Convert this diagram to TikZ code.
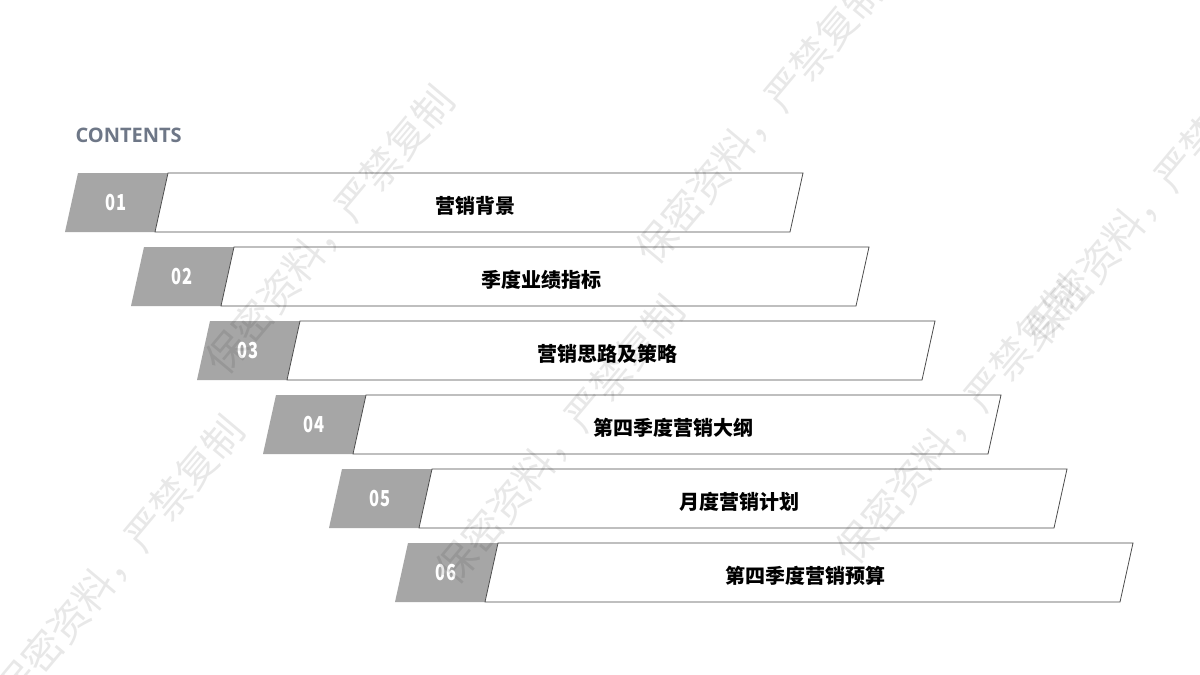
\documentclass[tikz,border=0pt]{standalone}
\usepackage{fontspec}
\setmainfont{Open Sans}
\newfontfamily\cjk{Noto Sans CJK SC}
\newfontfamily\cjkb{Noto Sans CJK SC Black}
\definecolor{ttl}{HTML}{6E7787}
\begin{document}
\begin{tikzpicture}[x=1pt,y=-1pt,
  graytab/.style={fill=black!35,draw=none},
  whitebar/.style={fill=white,draw=black!70,line width=0.8pt},
  numtxt/.style={text=white,font=\cjkb\fontsize{22}{22}\selectfont,xscale=0.75},
  labtxt/.style={text=black,font=\cjkb\fontsize{20}{20}\selectfont},
  wm/.style={text=black,text opacity=0.09,font=\cjk\fontsize{40}{40}\selectfont,rotate=50}]
\useasboundingbox (0,0) rectangle (1200,675);
\fill[white] (0,0) rectangle (1200,675);
\node[anchor=west,text=ttl,font=\bfseries\fontsize{20}{20}\selectfont] (title) at (72,135) {CONTENTS};
\foreach \i/\lab in {0/营销背景,1/季度业绩指标,2/营销思路及策略,3/第四季度营销大纲,4/月度营销计划,5/第四季度营销预算}{
  \begin{scope}[shift={(66*\i,74*\i)}]
    \fill[graytab] (65,232) -- (78,173) -- (168,173) -- (155,232) -- cycle;
    \filldraw[whitebar] (155,232) -- (168,173) -- (803,173) -- (790,232) -- cycle;
    \node[numtxt] (n\i) at (116,203) {0\the\numexpr\i+1\relax};
    \node[labtxt] (l\i) at (475,206) {\lab};
  \end{scope}
}
% watermark
\foreach \x/\y in {330/230, 760/120, 1150/200, 120/560, 560/440, 960/420}
  \node[wm] at (\x,\y) {保密资料，严禁复制};
\end{tikzpicture}
\end{document}
